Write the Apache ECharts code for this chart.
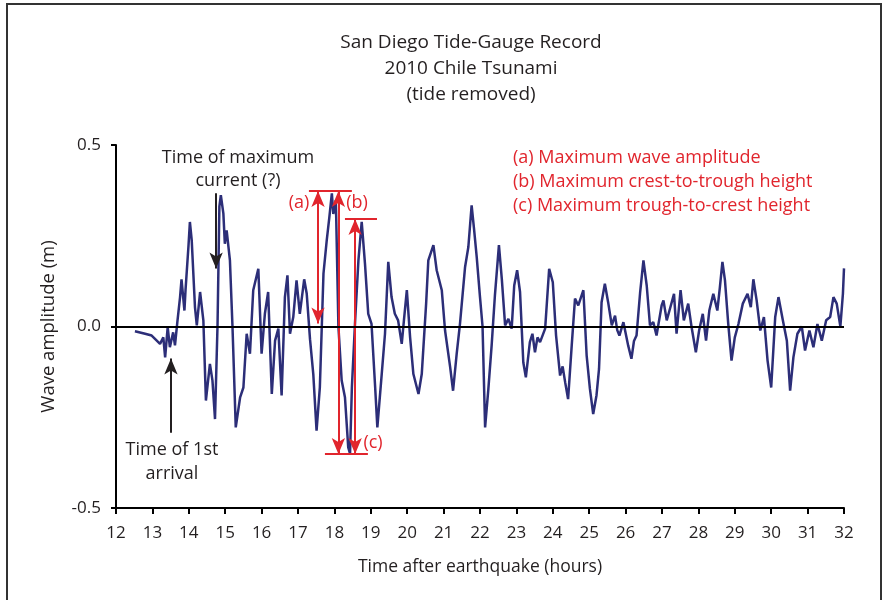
<!DOCTYPE html>
<html>
<head>
<meta charset="utf-8">
<script src="https://cdn.jsdelivr.net/npm/echarts@6/dist/echarts.min.js"></script>
<style>
  html, body { margin: 0; padding: 0; background: #fff; }
  #chart { width: 883px; height: 600px; }
</style>
</head>
<body>
<div id="chart"></div>
<script>
// time after earthquake (hours) and wave amplitude (m)
const hours = [12.52, 12.8, 12.98, 13.12, 13.21, 13.3, 13.35, 13.42, 13.48, 13.57, 13.62, 13.69, 13.76, 13.8, 13.88, 13.91, 13.99, 14.03, 14.08, 14.17, 14.22, 14.31, 14.4, 14.47, 14.58, 14.65, 14.72, 14.79, 14.84, 14.88, 14.95, 14.99, 15.04, 15.13, 15.2, 15.29, 15.41, 15.5, 15.59, 15.68, 15.77, 15.91, 16.0, 16.09, 16.18, 16.28, 16.37, 16.46, 16.55, 16.64, 16.71, 16.78, 16.87, 16.96, 17.05, 17.17, 17.24, 17.33, 17.42, 17.51, 17.6, 17.7, 17.79, 17.86, 17.93, 17.97, 18.04, 18.11, 18.2, 18.29, 18.38, 18.43, 18.48, 18.57, 18.66, 18.75, 18.84, 18.93, 19.02, 19.12, 19.18, 19.3, 19.39, 19.48, 19.57, 19.66, 19.75, 19.85, 19.91, 19.99, 20.08, 20.17, 20.31, 20.4, 20.52, 20.58, 20.72, 20.81, 20.95, 21.04, 21.18, 21.26, 21.36, 21.45, 21.59, 21.68, 21.77, 21.84, 21.91, 22.0, 22.07, 22.14, 22.23, 22.32, 22.41, 22.52, 22.6, 22.69, 22.78, 22.87, 22.94, 23.02, 23.1, 23.19, 23.26, 23.37, 23.44, 23.51, 23.58, 23.65, 23.79, 23.9, 24.0, 24.09, 24.2, 24.27, 24.34, 24.42, 24.52, 24.61, 24.7, 24.84, 24.93, 25.02, 25.11, 25.2, 25.27, 25.34, 25.43, 25.52, 25.62, 25.71, 25.77, 25.83, 25.94, 26.07, 26.16, 26.23, 26.3, 26.4, 26.49, 26.58, 26.67, 26.76, 26.85, 26.99, 27.04, 27.13, 27.23, 27.33, 27.4, 27.51, 27.6, 27.72, 27.81, 27.93, 28.02, 28.12, 28.21, 28.3, 28.41, 28.52, 28.59, 28.66, 28.73, 28.82, 28.91, 29.0, 29.1, 29.22, 29.35, 29.44, 29.51, 29.6, 29.7, 29.8, 29.9, 30.0, 30.11, 30.2, 30.32, 30.43, 30.52, 30.61, 30.72, 30.84, 30.93, 31.05, 31.16, 31.27, 31.39, 31.51, 31.62, 31.71, 31.8, 31.9, 31.97, 32.0]
const amplitude = [-0.013, -0.02, -0.025, -0.039, -0.048, -0.03, -0.085, -0.002, -0.057, -0.016, -0.052, 0.017, 0.081, 0.13, 0.044, 0.1, 0.22, 0.288, 0.238, 0.053, 0.003, 0.095, 0.017, -0.204, -0.103, -0.149, -0.255, 0.007, 0.33, 0.362, 0.311, 0.228, 0.265, 0.182, 0, -0.278, -0.195, -0.168, -0.02, -0.075, 0.1, 0.159, -0.075, 0.035, 0.095, -0.186, -0.039, -0.006, -0.19, 0.081, 0.141, -0.02, 0.026, 0.127, 0.035, 0.13, 0.09, -0.035, -0.131, -0.287, -0.168, 0.146, 0.238, 0.3, 0.367, 0.31, 0.348, 0, -0.149, -0.195, -0.333, -0.35, -0.168, 0.017, 0.182, 0.288, 0.173, 0.035, 0.007, -0.168, -0.278, -0.131, -0.02, 0.178, 0.081, 0.035, 0.017, -0.048, 0.017, 0.1, -0.03, -0.131, -0.186, -0.131, 0.063, 0.182, 0.224, 0.155, 0.1, -0.011, -0.112, -0.177, -0.075, 0.007, 0.164, 0.219, 0.334, 0.265, 0.191, 0.081, 0, -0.278, -0.172, -0.052, 0.086, 0.224, 0.13, 0.003, 0.021, -0.006, 0.113, 0.155, 0.095, -0.099, -0.14, -0.043, -0.02, -0.071, -0.03, -0.043, -0.006, 0.159, 0.122, -0.025, -0.135, -0.11, -0.154, -0.2, -0.052, 0.077, 0.058, 0.1, -0.08, -0.172, -0.241, -0.19, -0.117, 0.067, 0.118, 0.067, 0.003, 0.03, -0.01, -0.025, 0.012, -0.052, -0.089, -0.04, -0.025, 0.095, 0.182, 0.113, 0.003, 0.012, -0.025, 0.058, 0.072, 0.017, 0.053, 0.09, -0.02, 0.1, 0.017, 0.063, 0, -0.071, -0.011, 0.035, -0.039, 0.044, 0.09, 0.044, 0.108, 0.178, 0.127, 0.007, -0.094, -0.03, 0.007, 0.063, 0.09, 0.053, 0.13, 0.072, -0.011, 0.026, -0.094, -0.168, 0.026, 0.081, 0.017, -0.039, -0.177, -0.085, -0.02, 0, -0.066, -0.011, -0.057, 0.007, -0.039, 0.017, 0.026, 0.081, 0.063, 0, 0.09, 0.16]

const xTicks = { min: 12, max: 32, step: 1 }
const yTicks = { min: -0.5, max: 0.5, step: 0.5 }

// red measurement arrows and bars, [x1, y1, x2, y2] in data units
const redArrows = [
  [17.55, 0.373, 17.55, 0.008],   // (a)
  [18.11, 0.373, 18.11, -0.351],  // (b)
  [18.57, 0.296, 18.57, -0.351]   // (c)
]
const redBars = [
  [17.3, 0.374, 18.48, 0.374],
  [18.29, 0.296, 19.17, 0.296],
  [17.74, -0.351, 18.92, -0.351]
]
// black pointer arrows, tail -> head
const blackArrows = [
  [14.75, 0.367, 14.75, 0.16],    // max current
  [13.51, -0.293, 13.51, -0.088]  // 1st arrival
]

const legendLines = [
  '(a) Maximum wave amplitude',
  '(b) Maximum crest-to-trough height',
  '(c) Maximum trough-to-crest height'
]

const RED = '#e1252d'
const NAVY = '#2c2e78'
const INK = '#231f20'
const FONT = '"Open Sans", "Noto Sans", sans-serif'

const chart = echarts.init(document.getElementById('chart'))

const markData = []
redArrows.forEach(a => {
  markData.push([
    { coord: [a[0], a[1]], symbol: 'arrow', symbolSize: [10, 16], lineStyle: { color: RED, width: 2, type: 'solid' }, itemStyle: { color: RED } },
    { coord: [a[2], a[3]], symbol: 'arrow', symbolSize: [10, 16] }
  ])
})
redBars.forEach(b => {
  markData.push([
    { coord: [b[0], b[1]], symbol: 'none', lineStyle: { color: RED, width: 2, type: 'solid' } },
    { coord: [b[2], b[3]], symbol: 'none' }
  ])
})
blackArrows.forEach(a => {
  markData.push([
    { coord: [a[0], a[1]], symbol: 'none', lineStyle: { color: INK, width: 2, type: 'solid' }, itemStyle: { color: INK } },
    { coord: [a[2], a[3]], symbol: 'arrow', symbolSize: [10, 16] }
  ])
})
// zero line
markData.push([
  { coord: [xTicks.min, 0], symbol: 'none', lineStyle: { color: '#000', width: 2, type: 'solid' } },
  { coord: [xTicks.max, 0], symbol: 'none' }
])

function txt(x, y, text, opts) {
  return {
    type: 'text',
    x: x,
    y: y,
    silent: true,
    style: Object.assign({
      text: text,
      fill: INK,
      fontSize: 18,
      fontFamily: FONT,
      align: 'center',
      verticalAlign: 'middle',
      lineHeight: 24
    }, opts || {})
  }
}

const graphics = [
  {
    type: 'rect',
    silent: true,
    z: -1,
    shape: { x: 7, y: 4, width: 874, height: 640 },
    style: { fill: 'none', stroke: '#333', lineWidth: 2 }
  },
  txt(471, 69, 'San Diego Tide-Gauge Record\n2010 Chile Tsunami\n(tide removed)', { fontSize: 19, lineHeight: 26 }),
  txt(238, 169, 'Time of maximum\ncurrent (?)', { lineHeight: 23 }),
  txt(172, 462, 'Time of 1st\narrival', { lineHeight: 24 }),
  txt(299, 203, '(a)', { fill: RED }),
  txt(357, 203, '(b)', { fill: RED }),
  txt(373, 443, '(c)', { fill: RED })
]
legendLines.forEach((t, i) => {
  graphics.push(txt(513, 158 + i * 24, t, { fill: RED, align: 'left' }))
})

chart.setOption({
  animation: false,
  grid: { left: 116, right: 39, top: 145, bottom: 92 },
  xAxis: {
    type: 'value',
    min: xTicks.min,
    max: xTicks.max,
    interval: xTicks.step,
    name: 'Time after earthquake (hours)',
    nameLocation: 'middle',
    nameGap: 50,
    nameTextStyle: { color: INK, fontSize: 17.5, fontFamily: FONT },
    axisLine: { onZero: false, lineStyle: { color: '#000', width: 2 } },
    axisTick: { length: 6, lineStyle: { color: '#000', width: 2 } },
    axisLabel: { color: INK, fontSize: 17, fontFamily: FONT, margin: 17 },
    splitLine: { show: false }
  },
  yAxis: {
    type: 'value',
    min: yTicks.min,
    max: yTicks.max,
    interval: yTicks.step,
    name: 'Wave amplitude (m)',
    nameLocation: 'middle',
    nameGap: 58,
    nameTextStyle: { color: INK, fontSize: 18.5, fontFamily: FONT },
    axisLine: { show: true, lineStyle: { color: '#000', width: 2 } },
    axisTick: { show: true, length: 5, lineStyle: { color: '#000', width: 2 } },
    axisLabel: {
      color: INK, fontSize: 17, fontFamily: FONT, margin: 15,
      formatter: v => v.toFixed(1)
    },
    splitLine: { show: false }
  },
  graphic: graphics,
  series: [{
    type: 'line',
    data: hours.map((h, i) => [h, amplitude[i]]),
    showSymbol: false,
    lineStyle: { color: NAVY, width: 2.5 },
    clip: true,
    markLine: {
      silent: true,
      symbol: ['none', 'none'],
      label: { show: false },
      data: markData
    }
  }]
})
</script>
</body>
</html>
